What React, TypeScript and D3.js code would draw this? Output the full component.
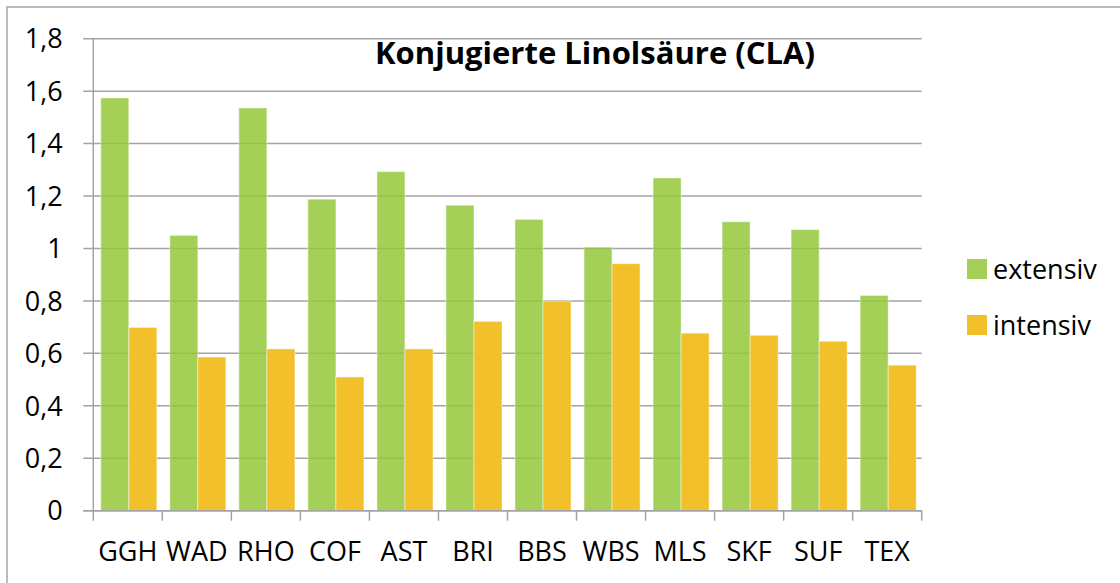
import React from "react";
import * as d3 from "d3";

const categories = ["GGH", "WAD", "RHO", "COF", "AST", "BRI", "BBS", "WBS", "MLS", "SKF", "SUF", "TEX"];
const extensiv = [1.574, 1.05, 1.536, 1.188, 1.293, 1.165, 1.111, 1.005, 1.269, 1.102, 1.072, 0.821];
const intensiv = [0.699, 0.586, 0.617, 0.51, 0.617, 0.722, 0.8, 0.942, 0.677, 0.669, 0.646, 0.555];
const seriesNames = ["extensiv", "intensiv"];
const yTicks = [0, 0.2, 0.4, 0.6, 0.8, 1, 1.2, 1.4, 1.6, 1.8];
const title = "Konjugierte Linolsäure (CLA)";

const W = 1120;
const H = 583;
const left = 93.3;
const right = 921.7;
const top = 38.7;
const bottom = 510.7;
const font = "'Open Sans', 'DejaVu Sans', sans-serif";
const gridColor = "#a3a3a3";

export default function App() {
  const x = d3.scaleBand<string>().domain(categories).range([left, right]).padding(0);
  const bw = x.bandwidth();
  const groupW = bw * 0.812;
  const x1 = d3
    .scaleBand<string>()
    .domain(seriesNames)
    .range([(bw - groupW) / 2 + 1, (bw - groupW) / 2 + 1 + groupW])
    .padding(0);
  const y = d3.scaleLinear().domain([0, 1.8]).range([bottom, top]);
  const fmt = (v: number) => String(v).replace(".", ",");
  const data = [extensiv, intensiv];
  const colors = ["rgba(149,200,59,0.85)", "#f1c02a"];
  const legendColors = ["#a5d058", "#f1c02a"];
  const bands = categories.map((c) => x(c) as number);
  const tickXs = [...bands, right];

  return (
    <div style={{ position: "fixed", left: 0, top: 0 }}>
      <svg width={W} height={H} style={{ display: "block", background: "#fff" }}>
        <rect x={7} y={7} width={W + 10} height={H + 10} fill="#fff" stroke="#a6a6a6" strokeWidth={1.5} />
        {yTicks.map((t) => (
          <line key={t} x1={left - 10} x2={right} y1={y(t)} y2={y(t)} stroke={gridColor} strokeWidth={1.5} />
        ))}
        <line x1={left} x2={left} y1={top} y2={bottom} stroke={gridColor} strokeWidth={1.5} />
        {seriesNames.map((s, si) =>
          categories.map((c, i) => (
            <rect
              key={s + c}
              x={(x(c) as number) + (x1(s) as number)}
              y={y(data[si][i])}
              width={x1.bandwidth()}
              height={bottom - y(data[si][i])}
              fill={colors[si]}
              stroke="rgba(255,255,255,0.45)"
              strokeWidth={1}
            />
          ))
        )}
        <line x1={left - 10} x2={right} y1={bottom} y2={bottom} stroke={gridColor} strokeWidth={1.5} />
        {tickXs.map((tx, i) => (
          <line key={i} x1={tx} x2={tx} y1={bottom} y2={bottom + 10} stroke={gridColor} strokeWidth={1.5} />
        ))}
        {yTicks.map((t) => (
          <text
            key={"l" + t}
            x={62.7}
            y={y(t)}
            dy="0.36em"
            textAnchor="end"
            fontFamily={font}
            fontSize={27}
            fill="#000"
          >
            {fmt(t)}
          </text>
        ))}
        {categories.map((c) => (
          <text
            key={"x" + c}
            x={(x(c) as number) + bw / 2}
            y={560.7}
            textAnchor="middle"
            fontFamily={font}
            fontSize={27}
            fill="#000"
          >
            {c}
          </text>
        ))}
        <text
          x={375}
          y={64}
          fontFamily={font}
          fontWeight="bold"
          fontSize={30}
          textLength={440}
          lengthAdjust="spacingAndGlyphs"
          fill="#000"
        >
          {title}
        </text>
        {seriesNames.map((s, i) => (
          <g key={"lg" + s} transform={`translate(967,${259 + i * 56})`}>
            <rect x={0} y={0} width={20} height={20} fill={legendColors[i]} />
            <text x={26} y={19.5} fontFamily={font} fontSize={27} fill="#000">
              {s}
            </text>
          </g>
        ))}
      </svg>
    </div>
  );
}
